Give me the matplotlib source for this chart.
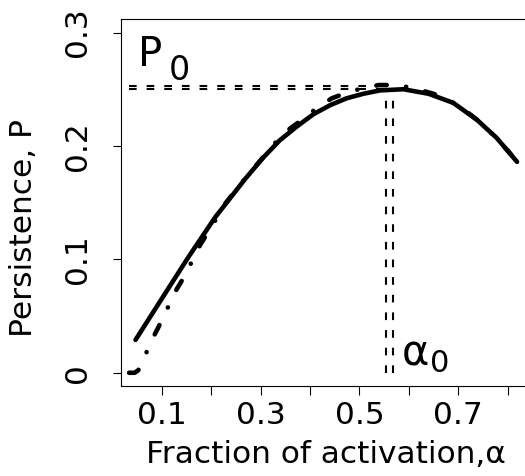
import matplotlib.pyplot as plt

plt.rcParams['font.family'] = ['DejaVu Sans']
plt.rcParams['lines.scale_dashes'] = False

# solid curve
alpha_solid = [0.047, 0.107, 0.154, 0.208, 0.269, 0.306, 0.339, 0.373, 0.407,
               0.441, 0.474, 0.508, 0.542, 0.589, 0.640, 0.690, 0.738, 0.778, 0.819]
P_solid = [0.029, 0.070, 0.102, 0.137, 0.171, 0.190, 0.205, 0.217, 0.228,
           0.236, 0.242, 0.246, 0.249, 0.250, 0.246, 0.238, 0.223, 0.207, 0.186]

# dash-dot curve
alpha_dd = [0.034, 0.045, 0.052, 0.058, 0.072, 0.086, 0.100, 0.115, 0.130, 0.146,
            0.162, 0.178, 0.194, 0.230, 0.270, 0.336, 0.360, 0.387, 0.4125, 0.444,
            0.471, 0.505, 0.539, 0.569, 0.603, 0.650, 0.700, 0.750, 0.800, 0.819]
P_dd = [0.000, 0.000, 0.002, 0.006, 0.021, 0.034, 0.046, 0.060, 0.0735, 0.085,
        0.099, 0.113, 0.124, 0.150, 0.172, 0.206, 0.2155, 0.224, 0.233, 0.242,
        0.2464, 0.2508, 0.2537, 0.2537, 0.2517, 0.246, 0.236, 0.219, 0.196, 0.186]

# optimum markers
alpha0 = [0.553, 0.567]
P0 = [0.2528, 0.2499]

xticks = [0.1, 0.2, 0.3, 0.4, 0.5, 0.6, 0.7, 0.8]
xticklabels = ['0.1', '', '0.3', '', '0.5', '', '0.7', '']
yticks = [0, 0.1, 0.2, 0.3]
yticklabels = ['0', '0.1', '0.2', '0.3']

fig = plt.figure(figsize=(5.25, 4.76), dpi=100)
ax = fig.add_axes([0.2305, 0.189, 0.785, 0.771])

ax.plot(alpha_solid, P_solid, color='black', lw=3.3, solid_capstyle='round')
ax.plot(alpha_dd, P_dd, color='black', lw=3.3, dashes=(7.5, 14, 0.1, 14),
        dash_capstyle='round')

for a in alpha0:
    ax.plot([a, a], [0, 0.25], color='black', lw=1.5, dashes=(5.5, 7.2))
for p in P0:
    ax.plot([0.034, 0.56], [p, p], color='black', lw=1.5, dashes=(5.5, 7.2))

ax.text(0.052, 0.2705, 'P', fontsize=29, va='baseline', ha='left')
ax.text(0.114, 0.258, '0', fontsize=24, va='baseline', ha='left')
ax.text(0.586, 0.0068, 'α', fontsize=30, va='baseline', ha='left')
ax.text(0.643, 0.001, '0', fontsize=22, va='baseline', ha='left')

ax.set_xlim(0.0176, 0.8516)
ax.set_ylim(-0.0117, 0.3119)
ax.set_xticks(xticks)
ax.set_xticklabels(xticklabels, fontsize=22.5)
ax.set_yticks(yticks)
ax.set_yticklabels(yticklabels, fontsize=22.5, rotation=90, va='center')
ax.tick_params(axis='x', direction='out', length=6.5, width=0.8, pad=4)
ax.tick_params(axis='y', direction='out', length=6, width=0.8, pad=15)
for s in ax.spines.values():
    s.set_linewidth(0.8)

fig.text(326 / 525, 13 / 476, 'Fraction of activation,α', fontsize=22.5,
         ha='center', va='baseline')
fig.text(23.5 / 525, 248 / 476, 'Persistence, P', fontsize=22.5,
         rotation=90, ha='center', va='center')

fig.savefig('out.png', dpi=100)
